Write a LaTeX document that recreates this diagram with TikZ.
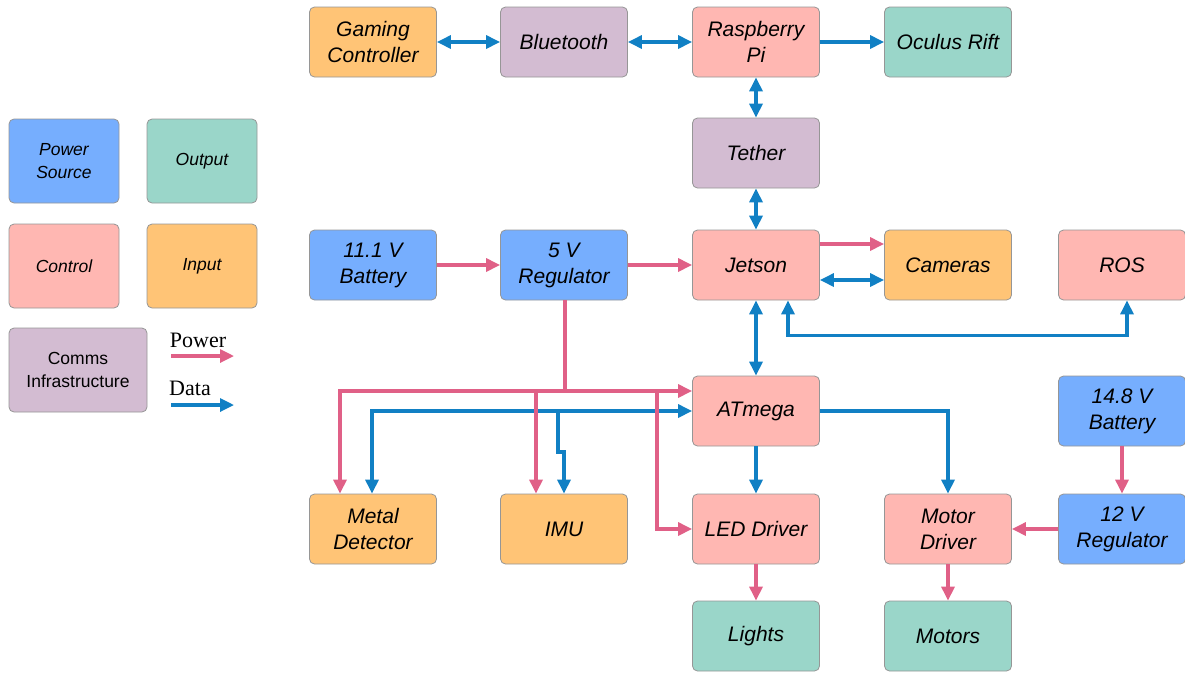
\documentclass[tikz,border=0pt]{standalone}
\usepackage{fontspec}
\setmainfont{Liberation Sans}
\newfontfamily\serifleg{Liberation Serif}
\usetikzlibrary{arrows.meta}
\definecolor{cpsrc}{RGB}{118,174,254}
\definecolor{cout}{RGB}{154,214,201}
\definecolor{cctl}{RGB}{255,183,178}
\definecolor{cinp}{RGB}{255,196,118}
\definecolor{ccom}{RGB}{211,188,210}
\definecolor{cpow}{RGB}{224,96,135}
\definecolor{cdat}{RGB}{17,128,196}
\definecolor{cbrd}{RGB}{150,150,150}
\tikzset{
  blk/.style={draw=cbrd, line width=0.8pt, rounded corners=5pt, minimum width=127pt, minimum height=70pt, align=center, inner sep=2pt, font=\fontsize{21}{26}\selectfont\itshape},
  lgd/.style={draw=cbrd, line width=0.8pt, rounded corners=5pt, minimum width=110pt, minimum height=84pt, align=center, inner sep=2pt, font=\fontsize{17.5}{22.5}\selectfont\itshape},
  psrc/.style={fill=cpsrc}, outp/.style={fill=cout}, ctl/.style={fill=cctl}, inp/.style={fill=cinp}, com/.style={fill=ccom},
  pow/.style={draw=cpow, line width=3.2pt, arrows={-Triangle[length=14pt,width=13pt]}},
  dat/.style={draw=cdat, line width=3.2pt, arrows={-Triangle[length=14pt,width=13pt]}},
  both/.style={arrows={Triangle[length=14pt,width=13pt]-Triangle[length=14pt,width=13pt]}},
  none/.style={arrows=-},
}
\begin{document}
\begin{tikzpicture}[x=1pt,y=-1pt]
\useasboundingbox (0,0) rectangle (1185,673);
% legend
\node[lgd,psrc] (l1) at (64,161) {Power\\Source};
\node[lgd,outp] (l2) at (202,161) {Output};
\node[lgd,ctl] (l3) at (64,266) {Control};
\node[lgd,inp] (l4) at (202,266) {Input};
\node[lgd,com,minimum width=138pt,font=\fontsize{17.5}{23}\selectfont] (l5) at (78,370) {Comms\\Infrastructure};
\node[font=\serifleg\fontsize{22}{24}\selectfont] (lp) at (198,340) {Power};
\node[font=\serifleg\fontsize{22}{24}\selectfont] (ld) at (190,388) {Data};
\coordinate (lpa) at (171,356); \coordinate (lpb) at (234,356);
\coordinate (lda) at (171,405); \coordinate (ldb) at (234,405);
\draw[pow] (lpa) -- (lpb);
\draw[dat] (lda) -- (ldb);
% blocks
\node[blk,inp] (gc) at (373,42) {Gaming\\Controller};
\node[blk,com] (bt) at (564,42) {Bluetooth};
\node[blk,ctl] (rpi) at (756,42) {Raspberry\\Pi};
\node[blk,outp] (oc) at (948,42) {Oculus Rift};
\node[blk,com] (teth) at (756,153) {Tether};
\node[blk,psrc] (b11) at (373,265) {11.1 V\\Battery};
\node[blk,psrc] (r5) at (564,265) {5 V\\Regulator};
\node[blk,ctl] (jet) at (756,265) {Jetson};
\node[blk,inp] (cam) at (948,265) {Cameras};
\node[blk,ctl] (ros) at (1122,265) {ROS};
\node[blk,ctl] (atm) at (756,411) {ATmega};
\node[blk,psrc] (b14) at (1122,411) {14.8 V\\Battery};
\node[blk,inp] (met) at (373,529) {Metal\\Detector};
\node[blk,inp] (imu) at (564,529) {IMU};
\node[blk,ctl] (led) at (756,529) {LED Driver};
\node[blk,ctl] (mot) at (948,529) {Motor\\Driver};
\node[blk,psrc] (r12) at (1122,529) {12 V\\Regulator};
\node[blk,outp] (lig) at (756,636) {Lights};
\node[blk,outp] (mtr) at (948,636) {Motors};
% data links
\draw[dat,both] (gc) -- (bt);
\draw[dat,both] (bt) -- (rpi);
\draw[dat] (rpi) -- (oc);
\draw[dat,both] (rpi) -- (teth);
\draw[dat,both] (teth) -- (jet);
\draw[dat,both] ([yshift=-15pt]jet.east) -- ([yshift=-15pt]cam.west);
\draw[dat,both] (jet) -- (atm);
\draw[dat,both] ([xshift=32pt]jet.south) -- ++(0,35) -| ([xshift=5pt]ros.south);
\draw[dat,both] (atm.west) -| ([xshift=-1pt]met.north);
\coordinate (ib) at (558,411);
\draw[dat] (ib) -- (558,452) -- (564,452) -- (imu.north);
\draw[dat] (atm.east) -| (mot.north);
\draw[dat] (atm) -- (led);
% power links
\draw[pow] (b11) -- (r5);
\draw[pow] (r5) -- (jet);
\draw[pow] ([yshift=21pt]jet.east) -- ([yshift=21pt]cam.west);
\coordinate (pj) at (565,391);
\draw[pow,none] (r5.south -| pj) -- (pj);
\draw[pow] (pj) -- (atm.west |- pj);
\draw[pow] (pj) -| ([xshift=-33pt]met.north);
\draw[pow] (536,391) -- ([xshift=-28pt]imu.north);
\draw[pow] (657,391) |- (led.west);
\draw[pow] (led) -- (lig);
\draw[pow] (mot) -- (mtr);
\draw[pow] (b14) -- (r12);
\draw[pow] (r12) -- (mot);
\end{tikzpicture}
\end{document}
